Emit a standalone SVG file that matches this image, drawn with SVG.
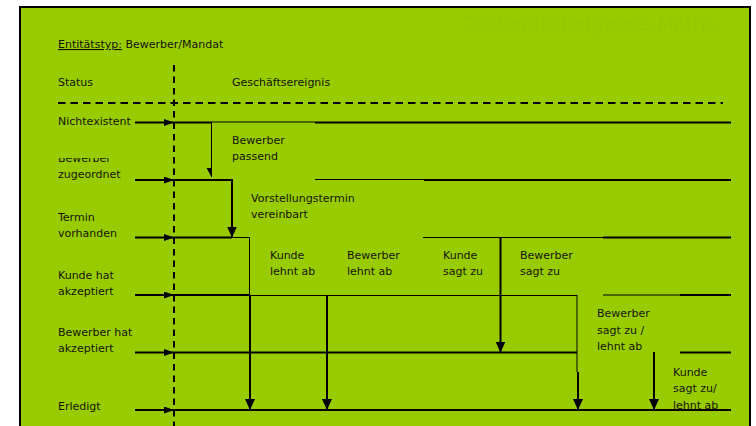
<svg xmlns="http://www.w3.org/2000/svg" width="756" height="426" viewBox="0 0 756 426">
<style>
.t{font-family:"DejaVu Sans","Liberation Sans",sans-serif;font-size:11px;fill:#141400}
.th{stroke:#000;stroke-width:2;fill:none}
.tn{stroke:#000;stroke-width:1;fill:none}
.dash{stroke:#000;stroke-width:2;fill:none}
</style>
<defs>
<marker id="ah" markerUnits="userSpaceOnUse" markerWidth="11" markerHeight="8" refX="10" refY="3.5" orient="auto">
<path d="M0,0 L10,3.5 L0,7 z" fill="#000"/>
</marker>
<marker id="av" markerUnits="userSpaceOnUse" markerWidth="12" markerHeight="11" refX="11" refY="5" orient="auto">
<path d="M0,0 L11,5 L0,10 z" fill="#000"/>
</marker>
<clipPath id="clipB"><rect x="50" y="158" width="90" height="12"/></clipPath>
</defs>
<rect x="0" y="0" width="756" height="426" fill="#fff"/>
<rect id="frame" x="20" y="7" width="730" height="430" fill="#99CC00" stroke="#000" stroke-width="2"/>

<g id="title">
<text x="461" y="30" font-family="DejaVu Sans, sans-serif" font-size="19" fill="#96c800">Zustandsübergangs-Matrix</text>
</g>

<g id="header">
<text class="t" x="58" y="48"><tspan text-decoration="underline">Entitätstyp:</tspan> Bewerber/Mandat</text>
<text class="t" x="58" y="86">Status</text>
<text class="t" x="232" y="86">Geschäftsereignis</text>
<line class="dash" x1="174" y1="65" x2="174" y2="426" stroke-dasharray="6.5,5"/>
<line class="dash" x1="58" y1="103" x2="723" y2="103" stroke-dasharray="7.5,5"/>
</g>

<g id="s-nichtexistent">
<text class="t" x="58" y="125">Nichtexistent</text>
</g>
<g id="s-zugeordnet">
<text class="t" x="58" y="162" clip-path="url(#clipB)">Bewerber</text>
<text class="t" x="58" y="178">zugeordnet</text>
</g>
<g id="s-termin">
<text class="t" x="58" y="221">Termin</text>
<text class="t" x="58" y="237">vorhanden</text>
</g>
<g id="s-kunde">
<text class="t" x="58" y="279">Kunde hat</text>
<text class="t" x="58" y="295">akzeptiert</text>
</g>
<g id="s-bewerber">
<text class="t" x="58" y="336">Bewerber hat</text>
<text class="t" x="58" y="352">akzeptiert</text>
</g>
<g id="s-erledigt">
<text class="t" x="58" y="410">Erledigt</text>
</g>

<g id="e-passend">
<text class="t" x="232" y="144">Bewerber</text>
<text class="t" x="232" y="160">passend</text>
</g>
<g id="e-termin">
<text class="t" x="251" y="202">Vorstellungstermin</text>
<text class="t" x="251" y="218">vereinbart</text>
</g>
<g id="e-kunde-ab">
<text class="t" x="270" y="259">Kunde</text>
<text class="t" x="270" y="275">lehnt ab</text>
</g>
<g id="e-bewerber-ab">
<text class="t" x="347" y="259">Bewerber</text>
<text class="t" x="347" y="275">lehnt ab</text>
</g>
<g id="e-kunde-zu">
<text class="t" x="443" y="259">Kunde</text>
<text class="t" x="443" y="275">sagt zu</text>
</g>
<g id="e-bewerber-zu">
<text class="t" x="520" y="259">Bewerber</text>
<text class="t" x="520" y="275">sagt zu</text>
</g>
<g id="e-bewerber-zuab">
<text class="t" x="597" y="317">Bewerber</text>
<text class="t" x="597" y="334">sagt zu /</text>
<text class="t" x="597" y="350">lehnt ab</text>
</g>
<g id="e-kunde-zuab">
<text class="t" x="673" y="376">Kunde</text>
<text class="t" x="673" y="392">sagt zu/</text>
<text class="t" x="673" y="409">lehnt ab</text>
</g>

<g id="connectors">
<line class="th" x1="135" y1="122.5" x2="174" y2="122.5" marker-end="url(#ah)"/>
<line class="th" x1="135" y1="180" x2="174" y2="180" marker-end="url(#ah)"/>
<line class="th" x1="135" y1="237.5" x2="174" y2="237.5" marker-end="url(#ah)"/>
<line class="th" x1="135" y1="295" x2="174" y2="295" marker-end="url(#ah)"/>
<line class="th" x1="135" y1="352.5" x2="174" y2="352.5" marker-end="url(#ah)"/>
<line class="th" x1="135" y1="410" x2="174" y2="410" marker-end="url(#ah)"/>
<line class="th" x1="174" y1="122.5" x2="212" y2="122.5"/>
<line class="tn" x1="211.5" y1="122" x2="315" y2="122"/>
<line class="th" x1="315" y1="122.5" x2="731" y2="122.5"/>
<line class="th" x1="174" y1="180" x2="233" y2="180"/>
<line class="tn" x1="315" y1="179.5" x2="424" y2="179.5"/>
<line class="th" x1="424" y1="180" x2="731" y2="180"/>
<line class="th" x1="174" y1="237.5" x2="232" y2="237.5"/>
<line class="tn" x1="232" y1="237.5" x2="249.5" y2="237.5"/>
<line class="tn" x1="423" y1="237.5" x2="603" y2="237.5" stroke-width="1.4"/>
<line class="th" x1="603" y1="237.5" x2="731" y2="237.5"/>
<line class="th" x1="174" y1="295" x2="249.5" y2="295"/>
<line class="tn" x1="249.5" y1="295.5" x2="577" y2="295.5"/>
<line class="tn" x1="603" y1="295" x2="680" y2="295"/>
<line class="th" x1="680" y1="295" x2="731" y2="295"/>
<line class="th" x1="174" y1="352.5" x2="577" y2="352.5"/>
<line class="th" x1="680" y1="352.5" x2="731" y2="352.5"/>
<line class="th" x1="174" y1="410" x2="731" y2="410"/>
<line class="tn" x1="211.5" y1="122" x2="211.5" y2="177"/>
<polygon points="206.5,168 211.5,168 211.5,177" fill="#000"/>
<line class="th" x1="232" y1="180" x2="232" y2="237.5" marker-end="url(#av)"/>
<line class="tn" x1="249.5" y1="237.5" x2="249.5" y2="295.5"/>
<line class="th" x1="250" y1="295" x2="250" y2="410" marker-end="url(#av)"/>
<line class="th" x1="327" y1="295" x2="327" y2="410" marker-end="url(#av)"/>
<line class="th" x1="500.5" y1="237.5" x2="500.5" y2="352.5" marker-end="url(#av)"/>
<line class="tn" x1="577" y1="295" x2="577" y2="372"/>
<line class="th" x1="578" y1="372" x2="578" y2="410" marker-end="url(#av)"/>
<line class="th" x1="654" y1="352" x2="654" y2="410" marker-end="url(#av)"/>
</g>
</svg>
